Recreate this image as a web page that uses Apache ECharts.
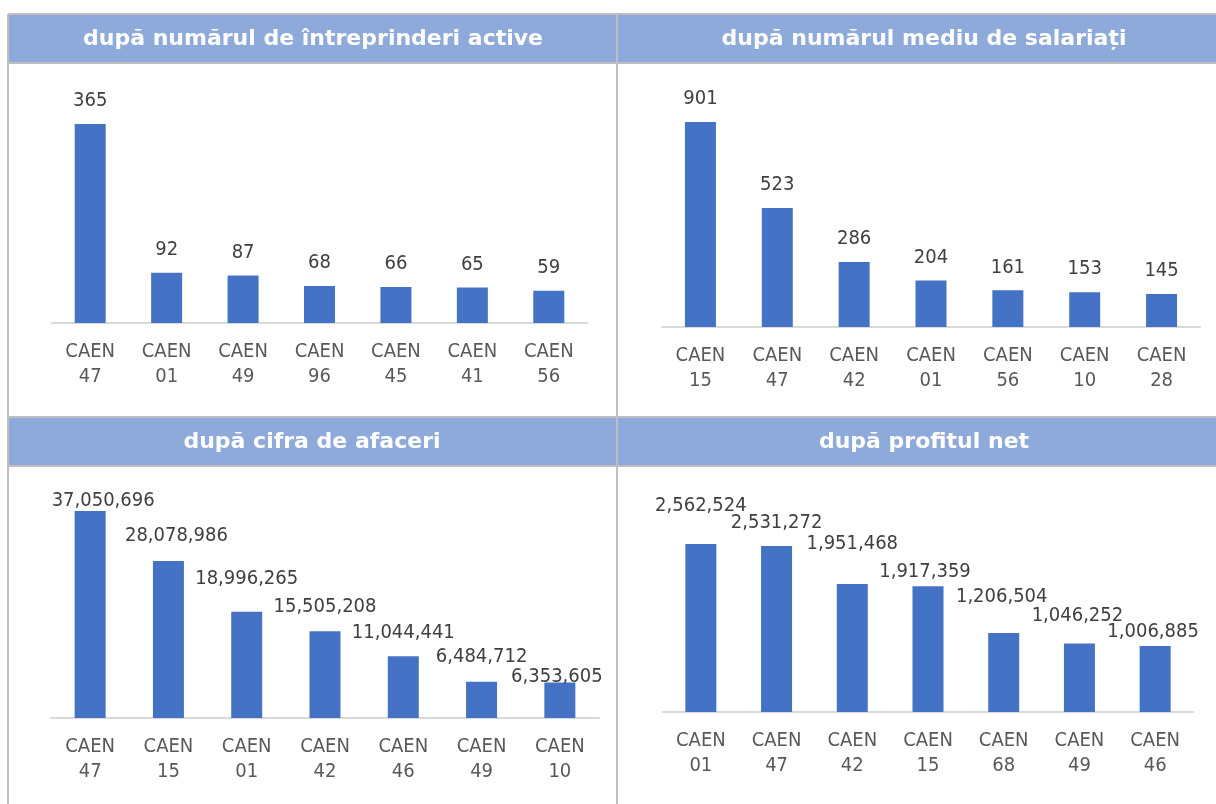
<!DOCTYPE html>
<html>
<head>
<meta charset="utf-8">
<script src="https://cdn.jsdelivr.net/npm/echarts@6/dist/echarts.min.js"></script>
<style>
  html, body { margin: 0; padding: 0; background: #fff; }
  #chart { width: 1216px; height: 804px; }
</style>
</head>
<body>
<div id="chart"></div>
<script>
// panel headers
const titles = [
    'după numărul de întreprinderi active',
    'după numărul mediu de salariați',
    'după cifra de afaceri',
    'după profitul net'
]

// after number of active firms
const firmsCodes = ['47', '01', '49', '96', '45', '41', '56']
const firmsValues = [365, 92, 87, 68, 66, 65, 59]

// after average number of employees
const staffCodes = ['15', '47', '42', '01', '56', '10', '28']
const staffValues = [901, 523, 286, 204, 161, 153, 145]

// after turnover
const turnoverCodes = ['47', '15', '01', '42', '46', '49', '10']
const turnoverValues = [37050696, 28078986, 18996265, 15505208, 11044441, 6484712, 6353605]

// after net profit
const profitCodes = ['01', '47', '42', '15', '68', '49', '46']
const profitValues = [2562524, 2531272, 1951468, 1917359, 1206504, 1046252, 1006885]

// labels were dragged by hand in the original, small nudges [dx, dy]
const turnoverNudge = [[13, 13], [8, -2], [0, -10], [0, -2], [0, 0], [0, -2], [-3, 17]]
const profitNudge = [[0, -15], [0, 0], [0, -17], [-3, 8], [-2, -13], [-2, -5], [-2, 9]]

const FONT = "'DejaVu Sans Condensed', 'DejaVu Sans', sans-serif"
const BORDER = '#BFBFBF'
const HEAD = '#8EAADB'

const panels = [
    {codes: firmsCodes, values: firmsValues, grid: {left: 52, width: 535, top: 124, height: 199}},
    {codes: staffCodes, values: staffValues, grid: {left: 662, width: 538, top: 122, height: 205}},
    {codes: turnoverCodes, values: turnoverValues, nudge: turnoverNudge,
        grid: {left: 51, width: 548, top: 511, height: 207}},
    {codes: profitCodes, values: profitValues, nudge: profitNudge,
        grid: {left: 663, width: 530, top: 544, height: 168}},
]

const chart = echarts.init(document.getElementById('chart'))

const grid = panels.map(p => Object.assign({containLabel: false}, p.grid))
const xAxis = panels.map((p, i) => ({
    type: 'category',
    gridIndex: i,
    data: p.codes.map(c => 'CAEN\n' + c),
    axisTick: {show: false},
    axisLine: {lineStyle: {color: '#D9D9D9', width: 2}},
    axisLabel: {
        color: '#595959',
        fontFamily: FONT,
        fontSize: 20,
        lineHeight: 25,
        margin: 16,
        interval: 0
    }
}))
const yAxis = panels.map((p, i) => ({
    type: 'value',
    gridIndex: i,
    min: 0,
    max: 'dataMax',
    show: false,
    splitLine: {show: false}
}))
const series = panels.map((p, i) => ({
    type: 'bar',
    xAxisIndex: i,
    yAxisIndex: i,
    data: p.values.map((v, j) => {
        const item = {value: v}
        if (p.nudge) item.label = {offset: p.nudge[j]}
        return item
    }),
    barWidth: 31,
    itemStyle: {color: '#4472C4'},
    label: {
        show: true,
        position: 'top',
        distance: 13,
        color: '#404040',
        fontFamily: FONT,
        fontSize: 20,
        formatter: d => d.value.toLocaleString('en-US')
    }
}))

const headers = [
    {x: 9, y: 15, w: 607, cx: 313},
    {x: 618, y: 15, w: 598, cx: 924},
    {x: 9, y: 418, w: 607, cx: 312},
    {x: 618, y: 418, w: 598, cx: 924},
]

const graphic = []
headers.forEach((h, i) => {
    graphic.push({
        type: 'rect',
        shape: {x: h.x, y: h.y, width: h.w, height: 47},
        style: {fill: HEAD},
        silent: true
    })
    graphic.push({
        type: 'text',
        x: h.cx,
        y: h.y + 24,
        style: {
            text: titles[i],
            fill: '#fff',
            font: "bold 22px 'DejaVu Sans', sans-serif",
            textAlign: 'center',
            textVerticalAlign: 'middle'
        },
        silent: true
    })
})
const lines = [
    [8, 14, 1216, 14],
    [8, 14, 8, 804],
    [617, 14, 617, 804],
    [8, 417, 1216, 417],
    [8, 63, 1216, 63],
    [8, 466, 1216, 466],
]
lines.forEach(l => {
    graphic.push({
        type: 'line',
        shape: {x1: l[0], y1: l[1], x2: l[2], y2: l[3]},
        style: {stroke: BORDER, lineWidth: 2},
        silent: true
    })
})

chart.setOption({
    animation: false,
    grid,
    xAxis,
    yAxis,
    series,
    graphic
})
</script>
</body>
</html>
